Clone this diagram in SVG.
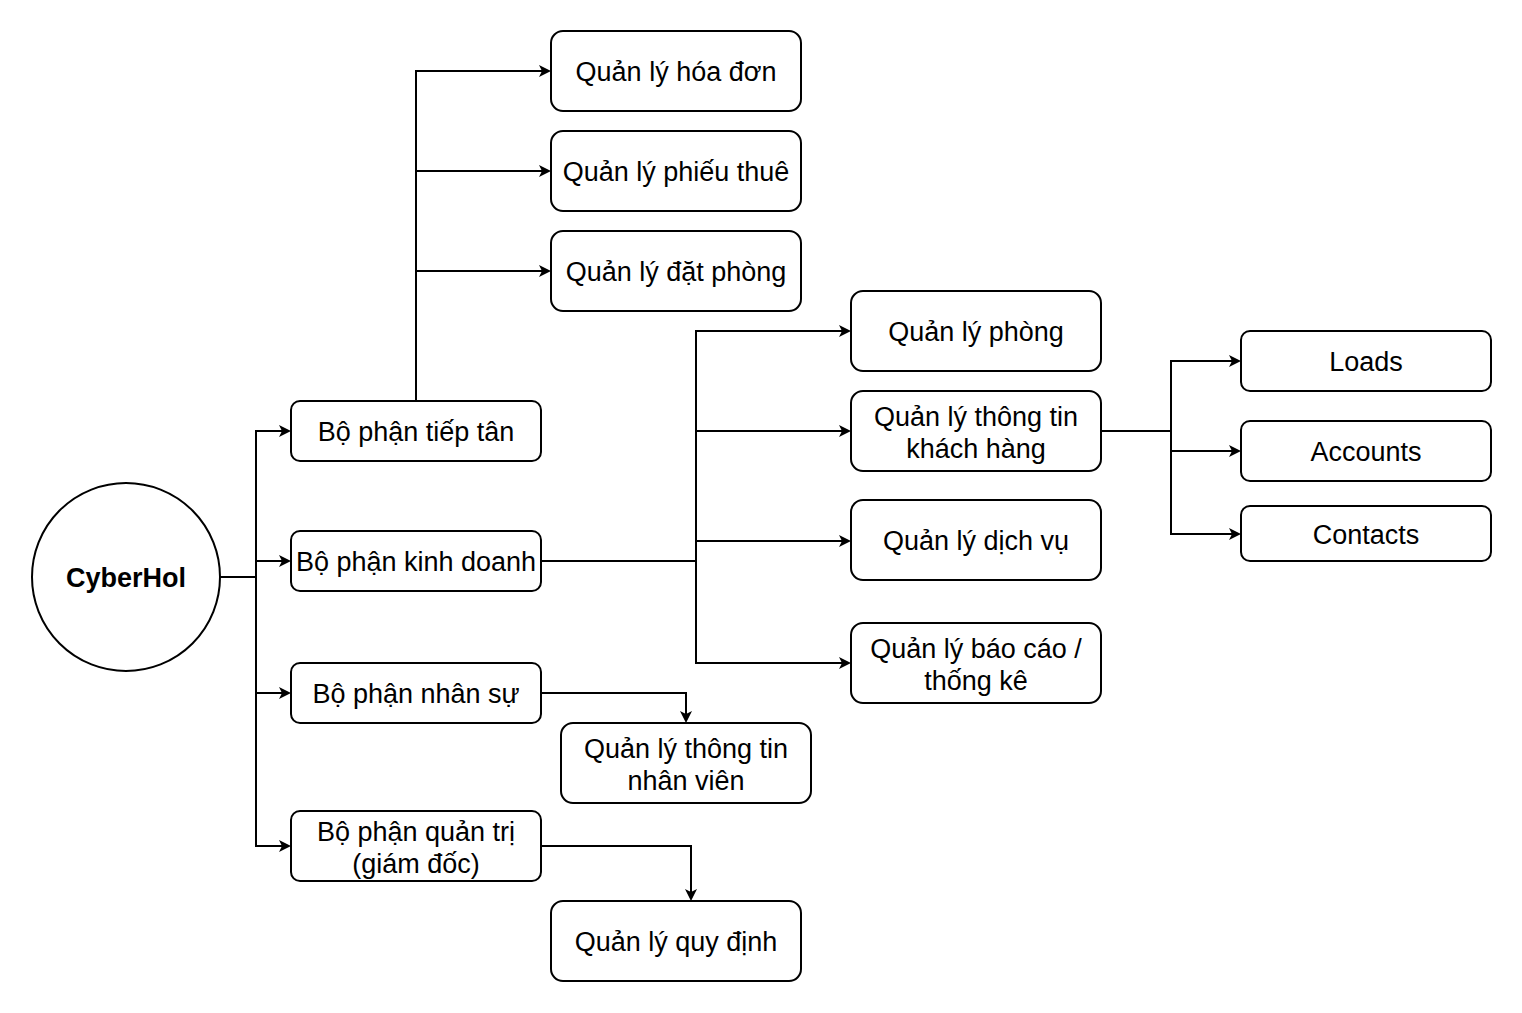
<svg xmlns="http://www.w3.org/2000/svg" width="1522" height="1013" viewBox="0 0 1522 1013">
<style>
.n{fill:#fff;stroke:#000;stroke-width:2}
.t{font-family:"Liberation Sans",Arial,sans-serif;font-size:27px;text-anchor:middle;fill:#000}
.b{font-weight:bold}
.c{fill:none;stroke:#000;stroke-width:2}
</style>
<defs>
<marker id="a" markerWidth="12" markerHeight="12" refX="10" refY="6" orient="auto" markerUnits="userSpaceOnUse">
<path d="M0,0 L12,6 L0,12 L3,6 Z" fill="#000"/>
</marker>
</defs>
<rect width="1522" height="1013" fill="#fff"/>
<g id="connectors">
<path class="c" d="M220,577 H256 V431 H289" marker-end="url(#a)"/>
<path class="c" d="M256,577 V561 H289" marker-end="url(#a)"/>
<path class="c" d="M256,577 V693 H289" marker-end="url(#a)"/>
<path class="c" d="M256,693 V846 H289" marker-end="url(#a)"/>
<path class="c" d="M416,401 V71 H549" marker-end="url(#a)"/>
<path class="c" d="M416,171 H549" marker-end="url(#a)"/>
<path class="c" d="M416,271 H549" marker-end="url(#a)"/>
<path class="c" d="M541,561 H696 V331 H849" marker-end="url(#a)"/>
<path class="c" d="M696,431 H849" marker-end="url(#a)"/>
<path class="c" d="M696,541 H849" marker-end="url(#a)"/>
<path class="c" d="M696,561 V663 H849" marker-end="url(#a)"/>
<path class="c" d="M541,693 H686 V721" marker-end="url(#a)"/>
<path class="c" d="M541,846 H691 V899" marker-end="url(#a)"/>
<path class="c" d="M1101,431 H1171 V361 H1239" marker-end="url(#a)"/>
<path class="c" d="M1171,431 V451 H1239" marker-end="url(#a)"/>
<path class="c" d="M1171,451 V534 H1239" marker-end="url(#a)"/>
</g>
<g id="cyberhol"><circle class="n" cx="126" cy="577" r="94"/><text class="t b" x="126" y="587">CyberHol</text></g>
<g id="tieptan"><rect class="n" x="291" y="401" width="250" height="60" rx="9"/><text class="t" x="416" y="441">Bộ phận tiếp tân</text></g>
<g id="kinhdoanh"><rect class="n" x="291" y="531" width="250" height="60" rx="9"/><text class="t" x="416" y="571">Bộ phận kinh doanh</text></g>
<g id="nhansu"><rect class="n" x="291" y="663" width="250" height="60" rx="9"/><text class="t" x="416" y="703">Bộ phận nhân sự</text></g>
<g id="quantri"><rect class="n" x="291" y="811" width="250" height="70" rx="9"/><text class="t" x="416" y="841">Bộ phận quản trị</text><text class="t" x="416" y="873">(giám đốc)</text></g>
<g id="hoadon"><rect class="n" x="551" y="31" width="250" height="80" rx="12"/><text class="t" x="676" y="81">Quản lý hóa đơn</text></g>
<g id="phieuthue"><rect class="n" x="551" y="131" width="250" height="80" rx="12"/><text class="t" x="676" y="181">Quản lý phiếu thuê</text></g>
<g id="datphong"><rect class="n" x="551" y="231" width="250" height="80" rx="12"/><text class="t" x="676" y="281">Quản lý đặt phòng</text></g>
<g id="phong"><rect class="n" x="851" y="291" width="250" height="80" rx="12"/><text class="t" x="976" y="341">Quản lý phòng</text></g>
<g id="khachhang"><rect class="n" x="851" y="391" width="250" height="80" rx="12"/><text class="t" x="976" y="426">Quản lý thông tin</text><text class="t" x="976" y="458">khách hàng</text></g>
<g id="dichvu"><rect class="n" x="851" y="500" width="250" height="80" rx="12"/><text class="t" x="976" y="550">Quản lý dịch vụ</text></g>
<g id="baocao"><rect class="n" x="851" y="623" width="250" height="80" rx="12"/><text class="t" x="976" y="658">Quản lý báo cáo /</text><text class="t" x="976" y="690">thống kê</text></g>
<g id="nhanvien"><rect class="n" x="561" y="723" width="250" height="80" rx="12"/><text class="t" x="686" y="758">Quản lý thông tin</text><text class="t" x="686" y="790">nhân viên</text></g>
<g id="quydinh"><rect class="n" x="551" y="901" width="250" height="80" rx="12"/><text class="t" x="676" y="951">Quản lý quy định</text></g>
<g id="loads"><rect class="n" x="1241" y="331" width="250" height="60" rx="9"/><text class="t" x="1366" y="371">Loads</text></g>
<g id="accounts"><rect class="n" x="1241" y="421" width="250" height="60" rx="9"/><text class="t" x="1366" y="461">Accounts</text></g>
<g id="contacts"><rect class="n" x="1241" y="506" width="250" height="55" rx="9"/><text class="t" x="1366" y="544">Contacts</text></g>
</svg>
